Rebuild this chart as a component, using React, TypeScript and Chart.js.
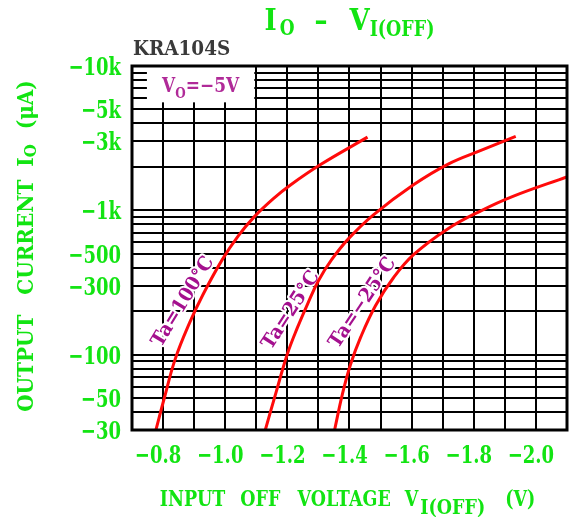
import React, { useEffect, useRef } from 'react';
import { Chart, registerables } from 'chart.js';
Chart.register(...registerables);

// ---- axes ----
const xGridValues = [-0.7, -0.8, -0.9, -1.0, -1.1, -1.2, -1.3, -1.4, -1.5, -1.6, -1.7, -1.8, -1.9, -2.0, -2.1];
const xTickValues = [-0.8, -1.0, -1.2, -1.4, -1.6, -1.8, -2.0];
const xTickLabels = ['−0.8', '−1.0', '−1.2', '−1.4', '−1.6', '−1.8', '−2.0'];
const yGridValues = [30, 40, 50, 60, 70, 80, 90, 100, 200, 300, 400, 500, 600, 700, 800, 900, 1000, 2000, 3000, 4000, 5000, 6000, 7000, 8000, 9000, 10000];
const yTickValues = [10000, 5000, 3000, 1000, 500, 300, 100, 50, 30];
const yTickLabels = ['−10k', '−5k', '−3k', '−1k', '−500', '−300', '−100', '−50', '−30'];

// ---- series (V in volts, |Io| in µA) ----
const v100 = [-0.777, -0.803, -0.839, -0.887, -0.929, -0.990, -1.042, -1.094, -1.155, -1.210, -1.307, -1.458];
const i100 = [30, 49, 93, 169, 262, 453, 665, 904, 1205, 1498, 2075, 3213];
const v25 = [-1.129, -1.165, -1.200, -1.232, -1.265, -1.300, -1.342, -1.397, -1.477, -1.606, -1.716, -1.823, -1.935];
const i25 = [30, 56, 101, 153, 224, 325, 453, 636, 930, 1503, 2083, 2602, 3254];
const vm25 = [-1.352, -1.377, -1.403, -1.436, -1.484, -1.542, -1.607, -1.716, -1.823, -1.926, -2.103];
const im25 = [30, 53, 85, 132, 219, 342, 494, 743, 992, 1249, 1714];

// ---- curve labels ----
const taLabels = ['Ta=100°C', 'Ta=25°C', 'Ta=−25°C'];
const taLabelV = [-0.860, -1.207, -1.438];
const taLabelI = [236, 206, 232];
const taLabelAngle = [-58.6, -57, -56.3];

const GREEN = '#12e412';
const PURPLE = '#a4108e';
const FONT = '"DejaVu Serif"';

type Piece = { t: string; size: number; sy: number; dy?: number; pre?: number };

function drawPieces(ctx: CanvasRenderingContext2D, pieces: Piece[], x: number, y: number, align: string, color: string, halo = 0) {
  const widths = pieces.map((p) => {
    ctx.font = `bold ${p.size}px ${FONT}`;
    return ctx.measureText(p.t).width;
  });
  const total = pieces.reduce((s, p, i) => s + (p.pre || 0) + widths[i], 0);
  let cx = align === 'left' ? x : align === 'center' ? x - total / 2 : x - total;
  pieces.forEach((p, i) => {
    cx += p.pre || 0;
    ctx.save();
    ctx.translate(cx, y + (p.dy || 0));
    ctx.scale(1, p.sy);
    ctx.font = `bold ${p.size}px ${FONT}`;
    ctx.textAlign = 'left';
    ctx.textBaseline = 'alphabetic';
    if (halo) {
      ctx.strokeStyle = '#fff';
      ctx.lineWidth = halo;
      ctx.lineJoin = 'round';
      ctx.strokeText(p.t, 0, 0);
    }
    ctx.fillStyle = color;
    ctx.fillText(p.t, 0, 0);
    ctx.restore();
    cx += widths[i];
  });
}

const textPlugin = {
  id: 'textPlugin',
  beforeDatasetsDraw(chart: any) {
    const ctx = chart.ctx as CanvasRenderingContext2D;
    const xs = chart.scales.x;
    const ys = chart.scales.y;
    const a = chart.chartArea;
    ctx.save();
    ctx.beginPath();
    ctx.rect(a.left, a.top, a.right - a.left, a.bottom - a.top);
    ctx.clip();
    // white box for V0 label
    const bx0 = xs.getPixelForValue(-0.748);
    const bx1 = xs.getPixelForValue(-1.1) - 2;
    const by1 = ys.getPixelForValue(5600);
    ctx.fillStyle = '#fff';
    ctx.fillRect(bx0, a.top, bx1 - bx0, by1 - a.top);
    // Ta labels
    taLabels.forEach((t, i) => {
      ctx.save();
      ctx.translate(xs.getPixelForValue(taLabelV[i]), ys.getPixelForValue(taLabelI[i]));
      ctx.rotate((taLabelAngle[i] * Math.PI) / 180);
      drawPieces(ctx, [{ t, size: 18.5, sy: 1.05 }], 0, 7, 'center', PURPLE, 4);
      ctx.restore();
    });
    ctx.restore();
  },
  afterDraw(chart: any) {
    const ctx = chart.ctx as CanvasRenderingContext2D;
    const xs = chart.scales.x;
    const ys = chart.scales.y;
    const a = chart.chartArea;
    const cxm = (a.left + a.right) / 2;
    ctx.save();
    // frame
    ctx.strokeStyle = '#000';
    ctx.lineWidth = 3;
    ctx.strokeRect(a.left, a.top, a.right - a.left, a.bottom - a.top);

    // V0 label
    drawPieces(ctx, [
      { t: 'V', size: 17, sy: 1.15 },
      { t: 'O', size: 12, sy: 1.2, dy: 6 },
      { t: '=−5V', size: 17, sy: 1.15 },
    ], a.left + 30, a.top + 26, 'left', '#b02a98');

    // tick labels
    xTickValues.forEach((v, i) => {
      drawPieces(ctx, [{ t: xTickLabels[i], size: 18, sy: 1.35 }], xs.getPixelForValue(v) - 5, a.bottom + 33, 'center', GREEN);
    });
    yTickValues.forEach((v, i) => {
      drawPieces(ctx, [{ t: yTickLabels[i], size: 18, sy: 1.35 }], a.left - 11, ys.getPixelForValue(v) + 9, 'right', GREEN);
    });

    // title
    drawPieces(ctx, [
      { t: 'I', size: 26, sy: 1.15 },
      { t: 'O', size: 17, sy: 1.3, dy: 5, pre: 3 },
      { t: '–', size: 26, sy: 1.15, pre: 20 },
      { t: 'V', size: 26, sy: 1.15, pre: 22 },
      { t: 'I(OFF)', size: 17.5, sy: 1.3, dy: 6 },
    ], cxm, 30, 'center', GREEN);

    // part number
    drawPieces(ctx, [{ t: 'KRA104S', size: 18.4, sy: 1.12 }], a.left + 1, 55, 'left', '#3a3a3a');

    // x axis title
    drawPieces(ctx, [
      { t: 'INPUT', size: 17.5, sy: 1.3 },
      { t: 'OFF', size: 17.5, sy: 1.3, pre: 15 },
      { t: 'VOLTAGE', size: 17.5, sy: 1.3, pre: 17 },
      { t: 'V', size: 17.5, sy: 1.3, pre: 14 },
      { t: 'I(OFF)', size: 17.5, sy: 1.2, dy: 8, pre: 2 },
      { t: '(V)', size: 17.5, sy: 1.3, pre: 20 },
    ], cxm - 2, 506, 'center', GREEN);

    // y axis title
    ctx.save();
    ctx.translate(33, (a.top + a.bottom) / 2 - 2);
    ctx.rotate(-Math.PI / 2);
    drawPieces(ctx, [
      { t: 'OUTPUT', size: 20, sy: 1.15 },
      { t: 'CURRENT', size: 20, sy: 1.15, pre: 20 },
      { t: 'I', size: 20, sy: 1.15, pre: 13 },
      { t: 'O', size: 15, sy: 1.15, dy: 3 },
      { t: '(μA)', size: 20, sy: 1.15, pre: 15 },
    ], 0, 0, 'center', GREEN);
    ctx.restore();

    ctx.restore();
  },
};

function toPoints(v: number[], i: number[]) {
  return v.map((x, k) => ({ x, y: i[k] }));
}

export default function App() {
  const ref = useRef<HTMLCanvasElement | null>(null);
  useEffect(() => {
    if (!ref.current) return;
    const lineDs = (data: any) => ({
      data,
      borderColor: '#ff0a0a',
      borderWidth: 3,
      pointRadius: 0,
      fill: false,
      tension: 0.4,
    });
    const chart = new Chart(ref.current, {
      type: 'line',
      data: {
        datasets: [
          lineDs(toPoints(v100, i100)),
          lineDs(toPoints(v25, i25)),
          lineDs(toPoints(vm25, im25)),
        ],
      },
      options: {
        animation: false,
        responsive: false,
        devicePixelRatio: 1,
        layout: { padding: { top: 66, right: 8, left: 0, bottom: 0 } },
        plugins: { legend: { display: false }, tooltip: { enabled: false }, title: { display: false } },
        scales: {
          x: {
            type: 'linear',
            reverse: true,
            min: -2.1,
            max: -0.7,
            border: { display: false },
            grid: { color: '#000', lineWidth: 2, drawTicks: false },
            ticks: { display: false },
            afterBuildTicks: (s: any) => { s.ticks = xGridValues.map((value) => ({ value })); },
            afterFit: (s: any) => { s.height = 87; },
          },
          y: {
            type: 'logarithmic',
            min: 30,
            max: 10000,
            border: { display: false },
            grid: { color: '#000', lineWidth: 2, drawTicks: false },
            ticks: { display: false, autoSkip: false },
            afterBuildTicks: (s: any) => { s.ticks = yGridValues.map((value) => ({ value })); },
            afterFit: (s: any) => { s.width = 132; },
          },
        },
      },
      plugins: [textPlugin],
    });
    return () => chart.destroy();
  }, []);
  return (
    <div style={{ position: 'absolute', left: 0, top: 0, width: 575, height: 517, background: '#fff' }}>
      <canvas ref={ref} width={575} height={517} style={{ display: 'block' }} />
    </div>
  );
}
